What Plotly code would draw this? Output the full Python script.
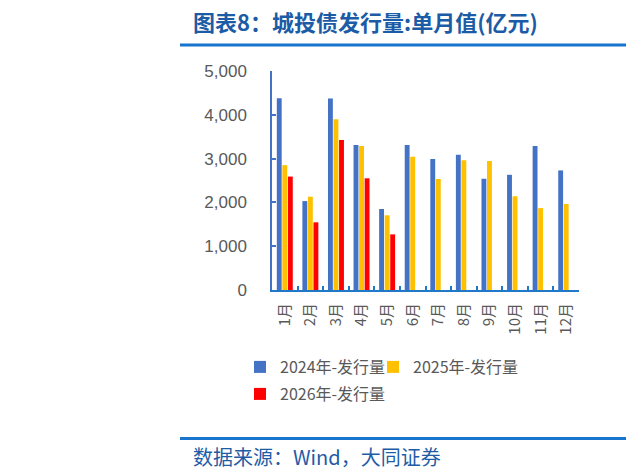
import plotly.graph_objects as go

months = ["1月", "2月", "3月", "4月", "5月", "6月", "7月", "8月", "9月", "10月", "11月", "12月"]
v2024 = [4380, 2030, 4370, 3310, 1850, 3310, 2990, 3090, 2540, 2630, 3290, 2730]
v2025 = [2850, 2130, 3900, 3290, 1705, 3040, 2535, 2960, 2945, 2140, 1870, 1965]
v2026 = [2590, 1545, 3425, 2550, 1270, None, None, None, None, None, None, None]
series_names = ["2024年-发行量", "2025年-发行量", "2026年-发行量"]
series_colors = ["#4472C4", "#FFC000", "#FF0000"]
y_ticks = [0, 1000, 2000, 3000, 4000, 5000]

W, H = 626, 476
L, R, T, B = 272, 47, 71, 186
pw, ph = W - L - R, H - T - B

def px_x(p):
    return (p - L) / pw

def px_y(p):
    return (H - B - p) / ph

fig = go.Figure()
for name, vals, col, lg in zip(series_names, [v2024, v2025, v2026], series_colors,
                               ["legend", "legend3", "legend2"]):
    fig.add_trace(go.Bar(x=months, y=vals, name=name, marker_color=col,
                         marker_line_width=0, legend=lg))

axis_font = dict(family="Liberation Sans, Arial, sans-serif", size=17, color="#595959")
leg_font = dict(family="Noto Sans CJK SC, sans-serif", size=16, color="#595959")
fig.update_layout(
    width=W, height=H,
    margin=dict(l=L, r=R, t=T, b=B),
    paper_bgcolor="white", plot_bgcolor="white",
    barmode="group", bargap=0.35, bargroupgap=0.12,
    font=dict(family="Noto Sans CJK SC, sans-serif", color="#595959"),
    xaxis=dict(
        showline=True, linecolor="#1F78C8", linewidth=2,
        ticks="inside", tickson="boundaries", ticklen=4, tickwidth=1.5, tickcolor="#1F78C8",
        tickangle=-90, ticklabelstandoff=5,
        tickfont=dict(family="Noto Sans CJK SC, sans-serif", size=15, color="#595959"),
        showgrid=False, fixedrange=True,
    ),
    yaxis=dict(
        range=[0, 5000], tickvals=y_ticks, tickformat=",",
        showline=True, linecolor="#4472C4", linewidth=1.5,
        ticks="inside", ticklen=4, tickwidth=1.5, tickcolor="#4472C4",
        ticklabelstandoff=20, tickfont=axis_font,
        showgrid=False, zeroline=False, fixedrange=True,
    ),
    legend=dict(
        orientation="h", x=px_x(240), xanchor="left", y=px_y(350), yanchor="top",
        font=leg_font, itemwidth=30, bgcolor="rgba(0,0,0,0)",
    ),
    legend3=dict(
        orientation="h", x=px_x(373), xanchor="left", y=px_y(350), yanchor="top",
        font=leg_font, itemwidth=30, bgcolor="rgba(0,0,0,0)",
    ),
    legend2=dict(
        orientation="h", x=px_x(240), xanchor="left", y=px_y(377), yanchor="top",
        font=leg_font, itemwidth=30, bgcolor="rgba(0,0,0,0)",
    ),
    showlegend=True,
)

# Header and footer rules
fig.add_shape(type="line", xref="paper", yref="paper", x0=px_x(180), x1=px_x(626),
              y0=px_y(45), y1=px_y(45), line=dict(color="#1874CD", width=3))
fig.add_shape(type="line", xref="paper", yref="paper", x0=px_x(180), x1=px_x(626),
              y0=px_y(438.5), y1=px_y(438.5), line=dict(color="#1874CD", width=3))

fig.add_annotation(text="<b>图表8：城投债发行量:单月值(亿元)</b>", xref="paper", yref="paper",
                   x=px_x(191), y=px_y(21), xanchor="left", yanchor="middle", showarrow=False,
                   font=dict(family="Noto Sans CJK SC, sans-serif", size=22, color="#1C5BA5"))
fig.add_annotation(text="数据来源：Wind，大同证券", xref="paper", yref="paper",
                   x=px_x(191), y=px_y(456), xanchor="left", yanchor="middle", showarrow=False,
                   font=dict(family="Noto Sans CJK SC, sans-serif", size=20, color="#1F5CA6"))

fig.write_html("out.html")
